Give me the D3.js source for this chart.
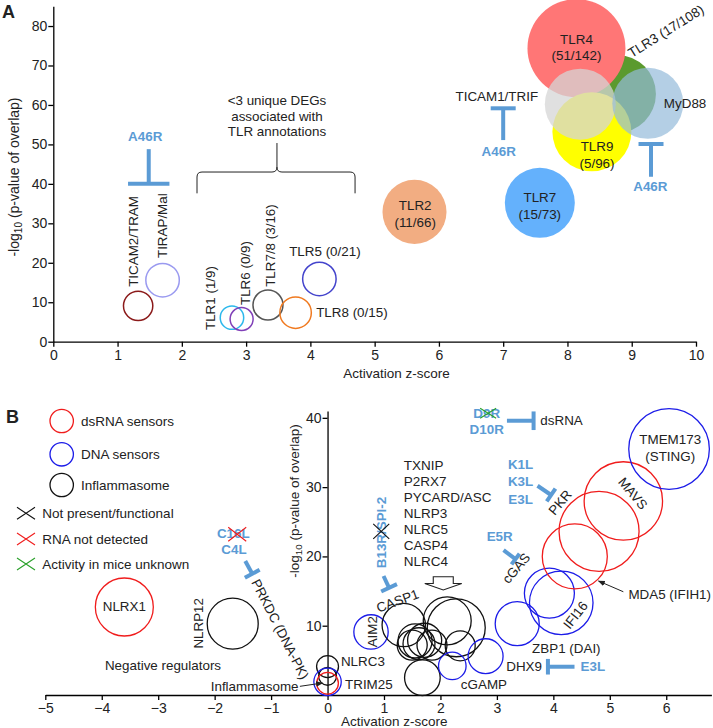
<!DOCTYPE html>
<html>
<head>
<meta charset="utf-8">
<script src="https://cdn.jsdelivr.net/npm/d3@7"></script>
<style>
  body { margin: 0; background: #fff; }
  svg text { font-family: "Liberation Sans", Arial, Helvetica, sans-serif; }
</style>
</head>
<body>
<div id="chart"></div>
<script>
// ---- panel A: TLR pathways ----
const tlrNames = ["TICAM2/TRAM", "TIRAP/Mal", "TLR1", "TLR6", "TLR7/8", "TLR8", "TLR5",
                  "TLR2", "TLR7", "TLR3", "TLR4", "TLR9", "TICAM1/TRIF", "MyD88"];
const tlrZ    = [1.32, 1.70, 2.78, 2.93, 3.34, 3.77, 4.14, 5.62, 7.57, 8.77, 8.14, 8.38, 8.20, 9.25];
const tlrLogP = [9.1, 15.6, 6.1, 5.75, 9.3, 7.35, 15.9, 32.9, 35.2, 62.8, 74.4, 53.2, 60.2, 60.4];
const tlrSize = [8.6, 11.2, 5.5, 5.3, 9, 9.9, 11.2, 41, 49, 60.8, 96, 62.4, 50.4, 50.4];
const xTicksA = d3.range(0, 11);
const yTicksA = d3.range(0, 81, 10);

// ---- panel B: innate immune sensors ----
const sensorGroup = ["dsRNA", "inflam", "inflam", "inflam", "DNA", "dsRNA", "DNA", "inflam",
                     "inflam", "inflam", "inflam", "inflam", "inflam", "inflam", "inflam", "inflam",
                     "inflam", "DNA", "DNA", "DNA", "DNA", "DNA", "dsRNA", "dsRNA", "dsRNA", "DNA"];
const sensorZ    = [-3.6, -1.68, 0, 0, 0, 0, 0.77, 1.35, 2.12, 2.28, 1.55, 1.62, 1.72, 1.85, 1.50, 2.35,
                    1.68, 2.21, 2.80, 3.36, 3.93, 4.14, 4.38, 4.81, 5.24, 6.05];
const sensorLogP = [12.7, 10.3, 4.1, 2.7, 1.9, 1.7, 9.1, 10.1, 10.7, 9.7, 7.8, 7.4, 7.9, 7.2, 7.2, 7.1,
                    2.5, 4.2, 5.6, 10.3, 14.7, 13.3, 20.0, 23.6, 28.0, 35.5];
const sensorSize = [33.6, 26, 4.8, 3.2, 7.5, 4.7, 11.8, 18.8, 23, 33.6, 11.6, 10.2, 11.6, 9, 9, 9,
                    12.7, 7.6, 12.2, 19.4, 25, 40.4, 42.3, 64, 61.5, 65];
const xTicksB = d3.range(-5, 7);
const yTicksB = [10, 20, 30, 40];
const inflammasomeList = ["TXNIP", "P2RX7", "PYCARD/ASC", "NLRP3", "NLRC5", "CASP4", "NLRC4"];

// styles
const tlrStyle = {
  "TICAM2/TRAM": { stroke: "#8b1a1a" },
  "TIRAP/Mal":   { stroke: "#9a9af0" },
  "TLR1":        { stroke: "#2cb8ec" },
  "TLR6":        { stroke: "#8040b8" },
  "TLR7/8":      { stroke: "#555555" },
  "TLR8":        { stroke: "#f07a20" },
  "TLR5":        { stroke: "#4444cc" },
  "TLR2":        { fill: "#f2ad82" },
  "TLR7":        { fill: "#64b1fc" },
  "TLR3":        { fill: "#5b9a2e" },
  "TLR4":        { fill: "#ff7676" },
  "TLR9":        { fill: "#ffff00" },
  "TICAM1/TRIF": { fill: "#d6d6d6", op: 0.75 },
  "MyD88":       { fill: "#94bada", op: 0.7 }
};
const groupColor = { dsRNA: "#f01c1c", DNA: "#1c1ce8", inflam: "#111111" };
const blue = "#5b9bd5";
const fs = 13.4;

const width = 713, height = 728;
const svg = d3.select("#chart").append("svg")
  .attr("width", width).attr("height", height);

svg.append("defs").append("marker")
  .attr("id", "arr").attr("viewBox", "0 0 10 10").attr("refX", 9).attr("refY", 5)
  .attr("markerWidth", 7).attr("markerHeight", 7).attr("orient", "auto-start-reverse")
  .append("path").attr("d", "M0,1 L10,5 L0,9 z").attr("fill", "#222");

// scales
const xA = d3.scaleLinear().domain([0, 10]).range([53.3, 696]);
const yA = d3.scaleLinear().domain([0, 85]).range([341.7, 6.3]);
const xB = d3.scaleLinear().domain([-5, 6.8]).range([45.3, 711.4]);
const yB = d3.scaleLinear().domain([0, 41]).range([695, 410.9]);
const rSize = d3.scaleSqrt().domain([0, 100]).range([0, 50]);

// helpers
function label(g, t, x, y, o = {}) {
  return g.append("text")
    .attr("transform", `translate(${x},${y}) rotate(${o.rot || 0})`)
    .attr("text-anchor", o.anchor || "middle")
    .attr("dy", o.dy || "0.35em")
    .style("font-size", (o.size || fs) + "px")
    .style("font-weight", o.bold ? "bold" : null)
    .attr("fill", o.color || "#222")
    .text(t);
}
function inhibitor(g, x1, y1, x2, y2, half) {
  const dx = x2 - x1, dy = y2 - y1, L = Math.hypot(dx, dy);
  const nx = -dy / L, ny = dx / L;
  g.append("line").attr("x1", x1).attr("y1", y1).attr("x2", x2).attr("y2", y2)
    .attr("stroke", blue).attr("stroke-width", 4);
  g.append("line")
    .attr("x1", x2 + nx * half).attr("y1", y2 + ny * half)
    .attr("x2", x2 - nx * half).attr("y2", y2 - ny * half)
    .attr("stroke", blue).attr("stroke-width", 4);
}
function cross(g, x, y, hw, hh, color) {
  g.append("path")
    .attr("d", `M${x - hw},${y - hh}L${x + hw},${y + hh}M${x - hw},${y + hh}L${x + hw},${y - hh}`)
    .attr("stroke", color).attr("stroke-width", 1.1).attr("fill", "none");
}
function styleAxis(g) {
  g.attr("font-size", 14).attr("font-family", '"Liberation Sans", Arial, sans-serif');
  g.selectAll("path, line").attr("stroke", "#000").attr("stroke-width", 1.3);
  g.selectAll("text").attr("fill", "#222");
}
function yTitle(g, x, y, size) {
  const t = g.append("text")
    .attr("transform", `translate(${x},${y}) rotate(-90)`)
    .attr("text-anchor", "middle").attr("dy", "0.35em")
    .style("font-size", size + "px").attr("fill", "#222");
  t.append("tspan").text("-log");
  t.append("tspan").text("10").style("font-size", (size * 0.72) + "px").attr("dy", 3);
  t.append("tspan").text(" (p-value of overlap)").attr("dy", -3);
}

// ================= Panel A =================
const gA = svg.append("g");

gA.append("g").attr("transform", `translate(0,${yA(0)})`)
  .call(d3.axisBottom(xA).tickValues(xTicksA).tickSize(5).tickSizeOuter(0).tickPadding(3))
  .call(styleAxis);
gA.append("g").attr("transform", `translate(${xA(0)},0)`)
  .call(d3.axisLeft(yA).tickValues(yTicksA).tickSize(5).tickSizeOuter(0).tickPadding(1))
  .call(styleAxis);

gA.selectAll("circle.tlr").data(d3.range(tlrNames.length)).join("circle")
  .attr("class", "tlr")
  .attr("cx", i => xA(tlrZ[i]))
  .attr("cy", i => yA(tlrLogP[i]))
  .attr("r", i => rSize(tlrSize[i]))
  .attr("fill", i => tlrStyle[tlrNames[i]].fill || "none")
  .attr("fill-opacity", i => tlrStyle[tlrNames[i]].op || 1)
  .attr("stroke", i => tlrStyle[tlrNames[i]].stroke || "none")
  .attr("stroke-width", 1.5);

// labels of panel A
const labelsA = [
  { t: "TLR4", z: 8.14, p: 76.7 }, { t: "(51/142)", z: 8.14, p: 72.5 },
  { t: "TLR3 (17/108)", z: 9.0, p: 71.9, rot: -32, anchor: "start", dy: "0" },
  { t: "MyD88", z: 9.83, p: 60.5 },
  { t: "TICAM1/TRIF", z: 6.9, p: 62.1 },
  { t: "TLR9", z: 8.46, p: 49.4 }, { t: "(5/96)", z: 8.46, p: 45.2 },
  { t: "TLR2", z: 5.63, p: 34.5 }, { t: "(11/66)", z: 5.63, p: 30.3 },
  { t: "TLR7", z: 7.57, p: 36.6 }, { t: "(15/73)", z: 7.57, p: 32.4 },
  { t: "TICAM2/TRAM", z: 1.24, p: 13.9, rot: -90, anchor: "start" },
  { t: "TIRAP/Mal", z: 1.69, p: 21.2, rot: -90, anchor: "start" },
  { t: "TLR1 (1/9)", z: 2.44, p: 2.96, rot: -90, anchor: "start" },
  { t: "TLR6 (0/9)", z: 2.98, p: 9.3, rot: -90, anchor: "start" },
  { t: "TLR7/8 (3/16)", z: 3.37, p: 13.9, rot: -90, anchor: "start" },
  { t: "TLR5 (0/21)", z: 3.67, p: 22.8, anchor: "start" },
  { t: "TLR8 (0/15)", z: 4.09, p: 7.35, anchor: "start" },
  { t: "<3 unique DEGs", z: 3.48, p: 61.3 },
  { t: "associated with", z: 3.48, p: 57.2 },
  { t: "TLR annotations", z: 3.48, p: 53.4 }
];
labelsA.forEach(d => label(gA, d.t, xA(d.z), yA(d.p), d));

// A46R inhibitors
[
  { z: 1.485, p0: 48.8, p1: 40.0, half: 20.7, lz: 1.43, lp: 51.95 },
  { z: 7.0, p0: 51.1, p1: 59.15, half: 12.5, lz: 6.93, lp: 48.2 },
  { z: 9.30, p0: 41.8, p1: 50.1, half: 12.5, lz: 9.29, lp: 39.3 }
].forEach(d => {
  inhibitor(gA, xA(d.z), yA(d.p0), xA(d.z), yA(d.p1), d.half);
  label(gA, "A46R", xA(d.lz), yA(d.lp), { bold: true, color: blue });
});

// brace
{
  const x0 = xA(2.236), x1 = xA(4.695), xm = xA(3.48);
  const yh = yA(43.0), yt = yA(50.35), yb = yA(37.6);
  gA.append("path")
    .attr("d", `M${x0},${yb}L${x0},${yh + 5}Q${x0},${yh} ${x0 + 5},${yh}L${xm - 5},${yh}` +
      `Q${xm},${yh} ${xm},${yh - 5}L${xm},${yt}M${xm},${yh - 5}Q${xm},${yh} ${xm + 5},${yh}` +
      `L${x1 - 5},${yh}Q${x1},${yh} ${x1},${yh + 5}L${x1},${yb}`)
    .attr("fill", "none").attr("stroke", "#222").attr("stroke-width", 1);
}

label(gA, "Activation z-score", 396.5, 378, { dy: "0", size: 13.5 });
yTitle(gA, 14, 177, 14);
label(gA, "A", 2, 18, { anchor: "start", dy: "0", size: 18, bold: true });

// ================= Panel B =================
const gB = svg.append("g");

gB.append("g").attr("transform", `translate(0,${yB(0)})`)
  .call(d3.axisBottom(xB).tickValues(xTicksB).tickSize(5).tickSizeOuter(0).tickPadding(3))
  .call(styleAxis);
gB.append("g").attr("transform", `translate(${xB(0)},0)`)
  .call(d3.axisLeft(yB).tickValues(yTicksB).tickSize(5).tickSizeOuter(0).tickPadding(1))
  .call(styleAxis);

gB.selectAll("circle.sensor").data(d3.range(sensorZ.length)).join("circle")
  .attr("class", "sensor")
  .attr("cx", i => xB(sensorZ[i]))
  .attr("cy", i => yB(sensorLogP[i]))
  .attr("r", i => rSize(sensorSize[i]))
  .attr("fill", "none")
  .attr("stroke", i => groupColor[sensorGroup[i]])
  .attr("stroke-width", 1.3);

const labelsB = [
  { t: "NLRX1", z: -3.6, p: 12.74 },
  { t: "NLRP12", z: -2.285, p: 10.35, rot: -90 },
  { t: "Negative regulators", z: -2.915, p: 4.33 },
  { t: "PRKDC (DNA-PK)", z: -0.838, p: 9.5, rot: 63 },
  { t: "Inflammasome", z: -0.514, p: 1.2, anchor: "end" },
  { t: "NLRC3", z: 0.237, p: 4.9, anchor: "start" },
  { t: "TRIM25", z: 0.31, p: 1.54, anchor: "start" },
  { t: "AIM2", z: 0.787, p: 9.13, rot: -90 },
  { t: "CASP1", z: 1.24, p: 13.6, rot: -20 },
  { t: "cGAMP", z: 2.77, p: 1.56 },
  { t: "dsRNA", z: 3.77, p: 39.68, anchor: "start" },
  { t: "PKR", z: 4.12, p: 27.8, rot: -50 },
  { t: "cGAS", z: 3.34, p: 18.3, rot: -50 },
  { t: "MAVS", z: 5.41, p: 29.1, rot: 50 },
  { t: "TMEM173", z: 6.07, p: 36.84 }, { t: "(STING)", z: 6.07, p: 34.39 },
  { t: "MDA5 (IFIH1)", z: 5.33, p: 14.57, anchor: "start" },
  { t: "IFI16", z: 4.39, p: 11.54, rot: -52 },
  { t: "ZBP1 (DAI)", z: 4.23, p: 6.68 },
  { t: "DHX9", z: 3.798, p: 4.08, anchor: "end" }
];
labelsB.forEach(d => label(gB, d.t, xB(d.z), yB(d.p), d));

// inflammasome members list
inflammasomeList.forEach((t, i) =>
  label(gB, t, xB(1.35), yB(33.19) + i * 16.1, { anchor: "start", size: 13.5 }));

// viral inhibitor labels
const viralB = [
  { t: "D9R", z: 2.82, p: 40.65 }, { t: "D10R", z: 2.82, p: 38.34 },
  { t: "K1L", z: 3.42, p: 33.29 }, { t: "K3L", z: 3.42, p: 30.78 }, { t: "E3L", z: 3.42, p: 28.24 },
  { t: "E5R", z: 3.05, p: 22.85 },
  { t: "E3L", z: 4.70, p: 4.08 },
  { t: "C16L", z: -1.67, p: 23.38 }, { t: "C4L", z: -1.658, p: 21.07 },
  { t: "B13R/SPI-2", z: 0.951, p: 23.45, rot: -90 }
];
viralB.forEach(d => label(gB, d.t, xB(d.z), yB(d.p), Object.assign({ bold: true, color: blue }, d)));

[
  { z0: 3.178, p0: 39.58, z1: 3.65, p1: 39.58, half: 9.3 },
  { z0: 3.72, p0: 30.2, z1: 3.96, p1: 28.86, half: 7.7 },
  { z0: 3.118, p0: 20.92, z1: 3.33, p1: 19.62, half: 6.7 },
  { z0: 4.375, p0: 4.08, z1: 3.904, p1: 4.08, half: 7.8 },
  { z0: -1.458, p0: 19.34, z1: -1.334, p1: 17.49, half: 8.4 },
  { z0: 0.992, p0: 17.17, z1: 1.09, p1: 15.47, half: 8.7 }
].forEach(d => inhibitor(gB, xB(d.z0), yB(d.p0), xB(d.z1), yB(d.p1), d.half));

// crosses over viral genes
cross(gB, xB(2.845), yB(40.65), 8, 5, "#2aa02a");
cross(gB, xB(0.951), yB(23.6), 8, 7.5, "#111");
cross(gB, xB(-1.6), yB(23.2), 9, 7, "#f01c1c");

// pointer arrows
gB.append("line")
  .attr("x1", xB(-0.49)).attr("y1", yB(1.25)).attr("x2", xB(-0.09)).attr("y2", yB(1.73))
  .attr("stroke", "#222").attr("stroke-width", 1).attr("marker-end", "url(#arr)");
gB.append("line")
  .attr("x1", xB(5.24)).attr("y1", yB(14.9)).attr("x2", xB(4.8)).attr("y2", yB(16.45))
  .attr("stroke", "#222").attr("stroke-width", 1).attr("marker-end", "url(#arr)");

// hollow block arrow pointing at the inflammasome cluster
{
  const cx = xB(2.05), t = yB(17.07), m = yB(16.1), b = yB(15.15);
  gB.append("path")
    .attr("d", `M${cx - 10},${t}L${cx + 10},${t}L${cx + 10},${m}L${cx + 18.5},${m}L${cx},${b}` +
      `L${cx - 18.5},${m}L${cx - 10},${m}Z`)
    .attr("fill", "#fff").attr("stroke", "#222").attr("stroke-width", 1.1);
}

// legend
const legendCircles = [["dsRNA", "dsRNA sensors"], ["DNA", "DNA sensors"], ["inflam", "Inflammasome"]];
legendCircles.forEach((d, i) => {
  const y = [421, 454.3, 485][i];
  gB.append("circle").attr("cx", 61.7).attr("cy", y).attr("r", 11.7)
    .attr("fill", "none").attr("stroke", groupColor[d[0]]).attr("stroke-width", 1.3);
  label(gB, d[1], 81, y, { anchor: "start", size: 13.5 });
});
const legendCrosses = [["#111", "Not present/functional"], ["#f01c1c", "RNA not detected"],
                       ["#2aa02a", "Activity in mice unknown"]];
legendCrosses.forEach((d, i) => {
  const y = [513.3, 539, 564][i];
  cross(gB, 26, y, 9, 6, d[0]);
  label(gB, d[1], 42.3, y, { anchor: "start", size: 13.5 });
});

label(gB, "Activation z-score", 394.2, 726, { dy: "0", size: 13.5 });
yTitle(gB, 294, 501, 13.5);
label(gB, "B", 6, 423, { anchor: "start", dy: "0", size: 18, bold: true });
</script>
</body>
</html>
